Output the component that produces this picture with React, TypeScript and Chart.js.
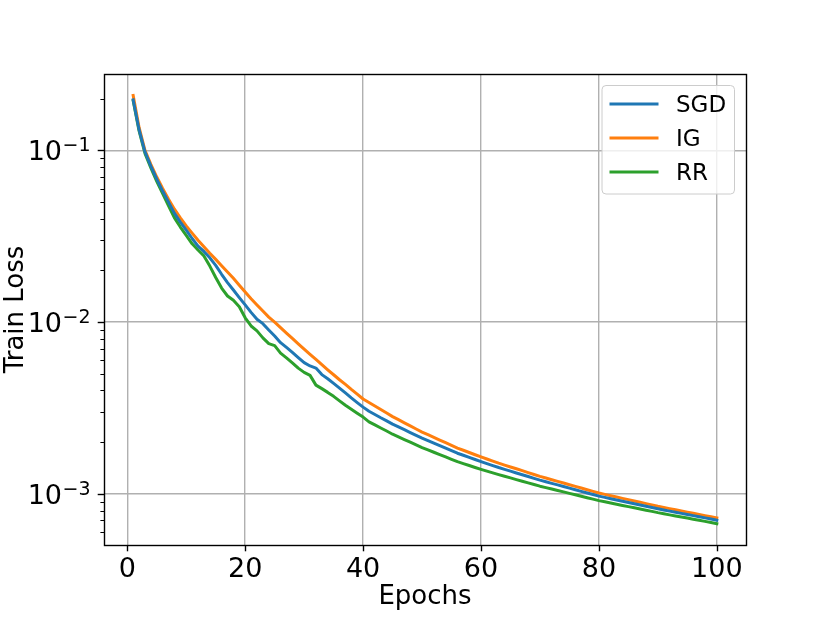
import React, { useEffect, useRef } from 'react';
import { Chart, registerables } from 'chart.js';

Chart.register(...registerables);

const epochs: number[] = Array.from({ length: 100 }, (_, i) => i + 1);

const seriesNames = ['SGD', 'IG', 'RR'];
const seriesColors = ['#1f77b4', '#ff7f0e', '#2ca02c'];

const sgdLoss: number[] = [
  0.197, 0.132, 0.098, 0.081, 0.068, 0.058, 0.050, 0.0430, 0.0382, 0.0343,
  0.0307, 0.0277, 0.0258, 0.0237, 0.0214, 0.0190, 0.0170, 0.0154, 0.0139, 0.0126,
  0.0114, 0.0104, 0.0098, 0.0090, 0.0083, 0.0076, 0.00713, 0.00667, 0.00622, 0.00581,
  0.00556, 0.00540, 0.00495, 0.00468, 0.00440, 0.00413, 0.00387, 0.00362, 0.00340, 0.00320,
  0.003028, 0.002901, 0.002775, 0.002661, 0.002547, 0.002453, 0.002364, 0.002277, 0.002194, 0.002113,
  0.002043, 0.001975, 0.001910, 0.001846, 0.001785, 0.001725, 0.001678, 0.001631, 0.001586, 0.001542,
  0.001501, 0.001462, 0.001424, 0.001390, 0.001357, 0.001324, 0.001293, 0.001262, 0.001232, 0.001202,
  0.001177, 0.001152, 0.001128, 0.001104, 0.001080, 0.001057, 0.001035, 0.001013, 0.000992, 0.000971,
  0.000954, 0.000938, 0.000922, 0.000907, 0.000891, 0.000876, 0.000861, 0.000847, 0.000833, 0.000819,
  0.000806, 0.000794, 0.000782, 0.000770, 0.000759, 0.000747, 0.000736, 0.000725, 0.000714, 0.000703,
];

const igLoss: number[] = [
  0.209, 0.136, 0.100, 0.083, 0.070, 0.060, 0.052, 0.0455, 0.0405, 0.0363,
  0.0330, 0.0300, 0.0275, 0.0252, 0.0232, 0.0213, 0.0196, 0.0180, 0.0164, 0.0150,
  0.0137, 0.0126, 0.0116, 0.0107, 0.0100, 0.00929, 0.00863, 0.00804, 0.00748, 0.00697,
  0.00650, 0.00607, 0.00566, 0.00528, 0.00494, 0.00462, 0.00434, 0.00406, 0.00381, 0.00357,
  0.003407, 0.003250, 0.003097, 0.002958, 0.002818, 0.002704, 0.002594, 0.002489, 0.002388, 0.002291,
  0.002211, 0.002133, 0.002058, 0.001986, 0.001917, 0.001849, 0.001795, 0.001742, 0.001690, 0.001641,
  0.001596, 0.001552, 0.001510, 0.001472, 0.001435, 0.001400, 0.001365, 0.001330, 0.001297, 0.001265,
  0.001237, 0.001209, 0.001183, 0.001157, 0.001131, 0.001106, 0.001082, 0.001058, 0.001034, 0.001012,
  0.000994, 0.000976, 0.000959, 0.000942, 0.000926, 0.000910, 0.000894, 0.000878, 0.000863, 0.000847,
  0.000834, 0.000821, 0.000808, 0.000796, 0.000783, 0.000771, 0.000759, 0.000747, 0.000736, 0.000724,
];

const rrLoss: number[] = [
  0.195, 0.130, 0.096, 0.079, 0.066, 0.056, 0.0475, 0.0405, 0.0358, 0.0320,
  0.0286, 0.0263, 0.0243, 0.0212, 0.0182, 0.0158, 0.0142, 0.0134, 0.0123, 0.0106,
  0.0095, 0.0089, 0.0081, 0.0075, 0.0073, 0.0066, 0.0062, 0.0058, 0.0054, 0.0051,
  0.0049, 0.0043, 0.0041, 0.0039, 0.0037, 0.00348, 0.00328, 0.00311, 0.00295, 0.00280,
  0.002629, 0.002523, 0.002419, 0.002323, 0.002226, 0.002148, 0.002073, 0.002000, 0.001930, 0.001862,
  0.001805, 0.001748, 0.001694, 0.001641, 0.001590, 0.001540, 0.001501, 0.001463, 0.001425, 0.001389,
  0.001356, 0.001325, 0.001294, 0.001266, 0.001239, 0.001211, 0.001185, 0.001159, 0.001134, 0.001109,
  0.001088, 0.001067, 0.001047, 0.001027, 0.001007, 0.000988, 0.000969, 0.000950, 0.000932, 0.000914,
  0.000900, 0.000885, 0.000871, 0.000857, 0.000843, 0.000830, 0.000817, 0.000804, 0.000791, 0.000778,
  0.000767, 0.000755, 0.000744, 0.000734, 0.000723, 0.000712, 0.000702, 0.000692, 0.000682, 0.000671,
];

const xTickValues = [0, 20, 40, 60, 80, 100];
const yDecadeExponents = [-4, -3, -2, -1];
const xLabel = 'Epochs';
const yLabel = 'Train Loss';

const X_MIN = -3.95;
const X_MAX = 104.95;
const Y_MIN = 5.04e-4;
const Y_MAX = 0.2786;

const FONT = '"DejaVu Sans", sans-serif';
const W = 830;
const H = 623;

const yTickValues: number[] = [];
yDecadeExponents.forEach((k) => {
  for (let m = 1; m <= 9; m++) {
    const v = m * Math.pow(10, k);
    if (v >= Y_MIN && v <= Y_MAX) yTickValues.push(v);
  }
});

const isMajor = (v: number) => {
  const l = Math.log10(v);
  return Math.abs(l - Math.round(l)) < 1e-6;
};

const mplPlugin = {
  id: 'mplDecor',
  afterDraw(chart: any) {
    const { ctx, chartArea: a } = chart;
    const ys = chart.scales.y;
    const xs = chart.scales.x;
    ctx.save();
    ctx.strokeStyle = '#000';
    ctx.fillStyle = '#000';

    // y ticks and labels
    yTickValues.forEach((v) => {
      const py = Math.round(ys.getPixelForValue(v)) + 0.5;
      const major = isMajor(v);
      ctx.strokeStyle = '#000';
      ctx.lineWidth = major ? 1.4 : 1.0;
      const len = major ? 6.3 : 3.6;
      ctx.beginPath();
      ctx.moveTo(a.left - len, py);
      ctx.lineTo(a.left, py);
      ctx.stroke();
      if (major) {
        const exp = Math.round(Math.log10(v));
        const sup = '\u2212' + String(Math.abs(exp));
        const baseY = py + 9.5;
        ctx.fillStyle = '#000';
        ctx.textBaseline = 'alphabetic';
        ctx.textAlign = 'right';
        ctx.font = `19px ${FONT}`;
        const rightX = a.left - 13.5;
        ctx.fillText(sup, rightX, baseY - 9);
        const supW = ctx.measureText(sup).width;
        ctx.font = `27px ${FONT}`;
        ctx.fillText('10', rightX - supW - 0.5, baseY);
      }
    });

    // x ticks
    xTickValues.forEach((v) => {
      const px = Math.round(xs.getPixelForValue(v)) + 0.5;
      ctx.strokeStyle = '#000';
      ctx.lineWidth = 1.4;
      ctx.beginPath();
      ctx.moveTo(px, a.bottom);
      ctx.lineTo(px, a.bottom + 6.3);
      ctx.stroke();
    });

    // spines
    ctx.strokeStyle = '#000';
    ctx.lineWidth = 1.4;
    ctx.strokeRect(Math.round(a.left) + 0.5, Math.round(a.top) + 0.5, Math.round(a.right - a.left), Math.round(a.bottom - a.top));

    // legend
    const boxRight = a.right - 11.5;
    const boxTop = a.top + 11.5;
    const boxW = 132.5;
    const boxH = 108.5;
    const boxLeft = boxRight - boxW;
    const r = 4;
    ctx.beginPath();
    ctx.moveTo(boxLeft + r, boxTop);
    ctx.lineTo(boxRight - r, boxTop);
    ctx.quadraticCurveTo(boxRight, boxTop, boxRight, boxTop + r);
    ctx.lineTo(boxRight, boxTop + boxH - r);
    ctx.quadraticCurveTo(boxRight, boxTop + boxH, boxRight - r, boxTop + boxH);
    ctx.lineTo(boxLeft + r, boxTop + boxH);
    ctx.quadraticCurveTo(boxLeft, boxTop + boxH, boxLeft, boxTop + boxH - r);
    ctx.lineTo(boxLeft, boxTop + r);
    ctx.quadraticCurveTo(boxLeft, boxTop, boxLeft + r, boxTop);
    ctx.closePath();
    ctx.fillStyle = 'rgba(255,255,255,0.8)';
    ctx.fill();
    ctx.strokeStyle = '#cccccc';
    ctx.lineWidth = 1;
    ctx.stroke();

    ctx.font = `23px ${FONT}`;
    ctx.textAlign = 'left';
    ctx.textBaseline = 'alphabetic';
    seriesNames.forEach((name, i) => {
      const ly = boxTop + 18.5 + i * 34;
      ctx.strokeStyle = seriesColors[i];
      ctx.lineWidth = 3;
      ctx.beginPath();
      ctx.moveTo(boxLeft + 7.5, ly);
      ctx.lineTo(boxLeft + 56.5, ly);
      ctx.stroke();
      ctx.fillStyle = '#000';
      ctx.fillText(name, boxLeft + 74, ly + 8.4);
    });

    ctx.restore();
  },
};

export default function App() {
  const ref = useRef<HTMLCanvasElement | null>(null);

  useEffect(() => {
    if (!ref.current) return;
    const series = [sgdLoss, igLoss, rrLoss];
    const chart = new Chart(ref.current, {
      type: 'line',
      data: {
        datasets: series.map((s, i) => ({
          label: seriesNames[i],
          data: epochs.map((e, j) => ({ x: e, y: s[j] })),
          borderColor: seriesColors[i],
          backgroundColor: seriesColors[i],
          borderWidth: 3,
          pointRadius: 0,
          tension: 0,
          fill: false,
          borderJoinStyle: 'round',
          borderCapStyle: 'square',
        })),
      },
      options: {
        animation: false,
        responsive: false,
        devicePixelRatio: 1,
        events: [],
        layout: { padding: { left: 0, top: 74, right: 84, bottom: 0 } },
        plugins: {
          legend: { display: false },
          tooltip: { enabled: false },
          title: { display: false },
        },
        scales: {
          x: {
            type: 'linear',
            min: X_MIN,
            max: X_MAX,
            afterBuildTicks: (s: any) => {
              s.ticks = xTickValues.map((v) => ({ value: v }));
            },
            afterFit: (s: any) => {
              s.height = 78;
            },
            border: { display: false },
            grid: {
              color: '#b0b0b0',
              lineWidth: 1.4,
              drawTicks: false,
            },
            ticks: {
              color: '#000',
              font: { family: FONT, size: 27 },
              padding: 9,
              maxRotation: 0,
              callback: (v: any) => String(v),
            },
            title: {
              display: true,
              text: xLabel,
              color: '#000',
              font: { family: FONT, size: 26 },
              padding: { top: 0, bottom: 10 },
            },
          },
          y: {
            type: 'logarithmic',
            min: Y_MIN,
            max: Y_MAX,
            afterBuildTicks: (s: any) => {
              s.ticks = yTickValues.map((v) => ({ value: v }));
            },
            afterFit: (s: any) => {
              s.width = 104;
            },
            border: { display: false },
            grid: {
              color: (c: any) => (c.tick && isMajor(c.tick.value) ? '#b0b0b0' : 'rgba(0,0,0,0)'),
              lineWidth: 1.4,
              drawTicks: false,
            },
            ticks: { display: false },
            title: {
              display: true,
              text: yLabel,
              color: '#000',
              font: { family: FONT, size: 26 },
              padding: { top: 1, bottom: 0 },
            },
          },
        },
      },
      plugins: [mplPlugin],
    } as any);
    return () => chart.destroy();
  }, []);

  return (
    <div style={{ position: 'fixed', left: 0, top: 0, width: W, height: H, background: '#fff' }}>
      <canvas ref={ref} width={W} height={H} style={{ display: 'block', width: W, height: H }} />
    </div>
  );
}
